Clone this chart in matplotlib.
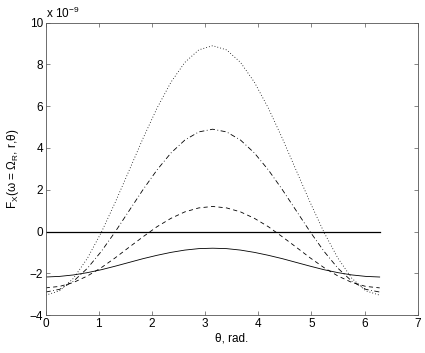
import numpy as np
import matplotlib
matplotlib.use("Agg")
import matplotlib.pyplot as plt

plt.rcParams['font.family'] = ['Liberation Sans', 'DejaVu Sans']
plt.rcParams['mathtext.fontset'] = 'custom'
plt.rcParams['mathtext.rm'] = 'Liberation Sans'
plt.rcParams['mathtext.it'] = 'Liberation Sans'

# theta sampled every pi/12 over [0, 2pi]
theta = np.linspace(0, 2 * np.pi, 25)

# values in units of 1e-9 (symmetric about pi)
half_solid = [-2.18, -2.15, -2.08, -1.97, -1.83, -1.66, -1.48, -1.30, -1.14, -1.00, -0.89, -0.82, -0.80]
half_dashed = [-2.70, -2.63, -2.44, -2.13, -1.73, -1.26, -0.75, -0.25, 0.23, 0.63, 0.94, 1.13, 1.20]
half_dashdot = [-2.90, -2.77, -2.38, -1.76, -0.95, -0.01, 1.00, 2.01, 2.95, 3.76, 4.38, 4.77, 4.90]
half_dotted = [-3.05, -2.84, -2.24, -1.28, -0.04, 1.40, 2.93, 4.47, 5.91, 7.15, 8.10, 8.70, 8.90]

solid = half_solid + half_solid[-2::-1]
dashed = half_dashed + half_dashed[-2::-1]
dashdot = half_dashdot + half_dashdot[-2::-1]
dotted = half_dotted + half_dotted[-2::-1]

fig = plt.figure(figsize=(4.25, 3.53), dpi=100)
ax = fig.add_axes([0.1075, 0.1076, 0.8755, 0.828])

lw = 0.6
ax.plot(theta, solid, color='black', linestyle='-', linewidth=lw)
ax.plot(theta, dashed, color='black', linestyle=(0, (5, 4)), linewidth=lw)
ax.plot(theta, dashdot, color='black', linestyle=(0, (6, 3, 1, 3)), linewidth=lw)
ax.plot(theta, dotted, color='black', linestyle=(0, (1, 2.5)), linewidth=lw)
ax.plot([0, 2 * np.pi], [0, 0], color='black', linewidth=0.9)

ax.set_xlim(0, 7)
ax.set_ylim(-4, 10)
ax.set_xticks(range(0, 8))
ax.set_yticks(range(-4, 11, 2))
ax.tick_params(direction='in', top=True, right=True, labelsize=8.5,
               length=3, width=0.5, color='#555555', pad=2)
for s in ax.spines.values():
    s.set_linewidth(0.6)
    s.set_color('#555555')

ax.text(0.0, 1.006, r'x 10$^{-9}$', transform=ax.transAxes, fontsize=8.5,
        ha='left', va='bottom')
ax.set_xlabel('θ, rad.', fontsize=8.5, labelpad=2)
ax.set_ylabel(r'F$_\mathrm{X}$(ω = Ω$_\mathrm{R}$, r,θ)', fontsize=8.5, labelpad=6)

fig.savefig('out.png', dpi=100)
